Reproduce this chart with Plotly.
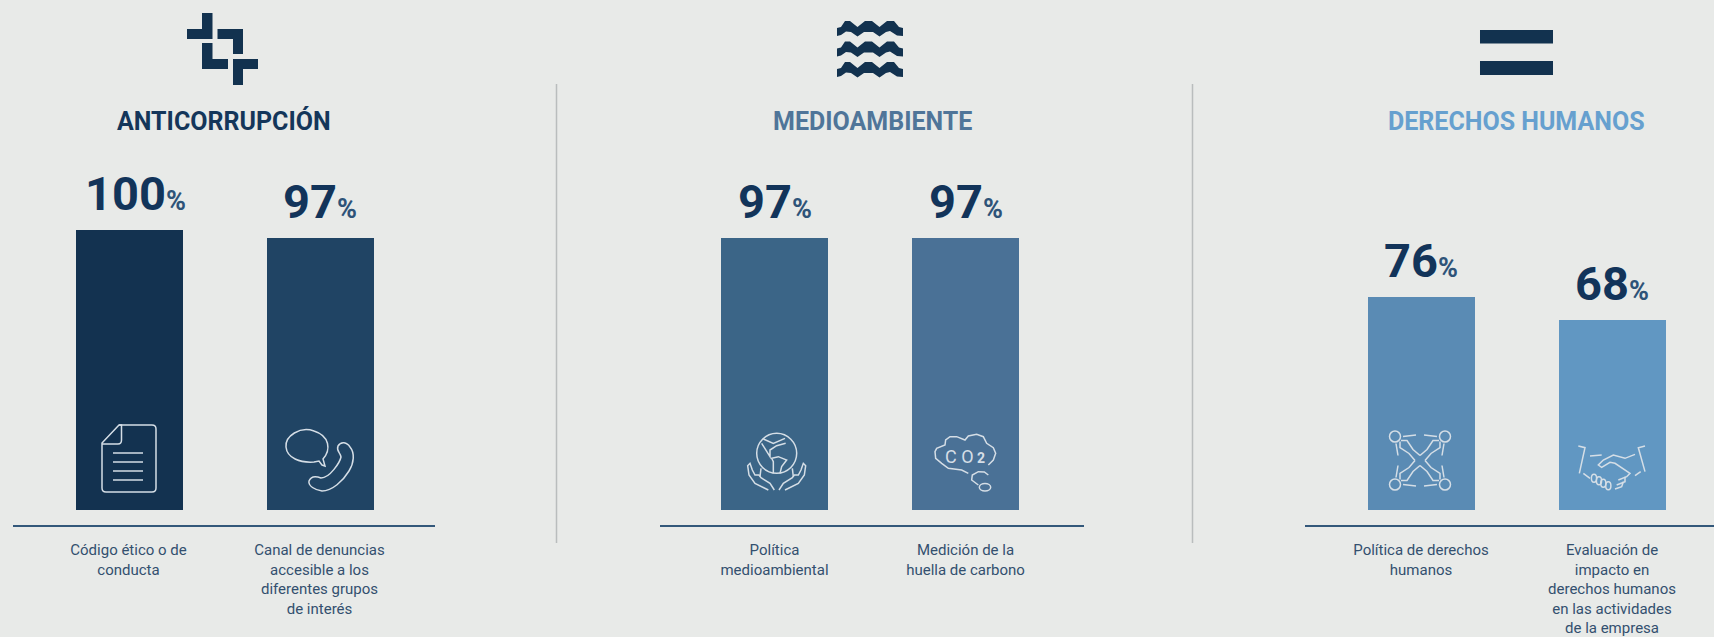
import re
import plotly.graph_objects as go

W, H = 1714, 637
BG = "#e8eae8"
FONT = "Roboto, 'Noto Sans', sans-serif"
NAVY = "#12324f"

# ---- data ----
panel_titles = ["ANTICORRUPCIÓN", "MEDIOAMBIENTE", "DERECHOS HUMANOS"]
title_colors = ["#14365a", "#4f7599", "#66a0cf"]
categories_a = ["Código ético o de<br>conducta",
                "Canal de denuncias<br>accesible a los<br>diferentes grupos<br>de interés"]
values_a = [100, 97]
categories_b = ["Política<br>medioambiental", "Medición de la<br>huella de carbono"]
values_b = [97, 97]
categories_c = ["Política de derechos<br>humanos",
                "Evaluación de<br>impacto en<br>derechos humanos<br>en las actividades<br>de la empresa"]
values_c = [76, 68]
colors_a = ["#133250", "#204464"]
colors_b = ["#3b6587", "#4a7196"]
colors_c = ["#5a8bb4", "#6197c2"]

# ---- layout constants (pixels) ----
BASE_PX, ZERO_PX, TOP100_PX = 525, 510, 230
PX_PER_UNIT = (ZERO_PX - TOP100_PX) / 100
STEP = 191
BAR_W = 107
panels = [
    dict(first=128.5, left=12.5, right=435),
    dict(first=774.5, left=660, right=1084),
    dict(first=1421, left=1305, right=1714),
]
for p in panels:
    p["range"] = [(p["left"] - p["first"]) / STEP, (p["right"] - p["first"]) / STEP]
    p["domain"] = [p["left"] / W, p["right"] / W]

y_range = [(ZERO_PX - BASE_PX) / PX_PER_UNIT, ZERO_PX / PX_PER_UNIT]
y_domain = [(H - BASE_PX) / H, 1]


def to_paper(path):
    def conv(m):
        return f"{float(m.group(1)) / W:.6f},{1 - float(m.group(2)) / H:.6f}"
    return re.sub(r"(-?\d+\.?\d*),(-?\d+\.?\d*)", conv, path)


def fill_shape(path, color=NAVY):
    return dict(type="path", xref="paper", yref="paper", path=to_paper(path),
                fillcolor=color, line=dict(width=0))


def line_shape(path, width=1.5, color="#d5dee6"):
    return dict(type="path", xref="paper", yref="paper", path=to_paper(path),
                line=dict(width=width, color=color))


def rect(x0, y0, x1, y1):
    return f"M{x0},{y0} L{x1},{y0} L{x1},{y1} L{x0},{y1} Z"


def circle(cx, cy, rx, ry=None):
    ry = ry or rx
    return (f"M{cx - rx},{cy} C{cx - rx},{cy - ry * .55} {cx - rx * .55},{cy - ry} {cx},{cy - ry} "
            f"C{cx + rx * .55},{cy - ry} {cx + rx},{cy - ry * .55} {cx + rx},{cy} "
            f"C{cx + rx},{cy + ry * .55} {cx + rx * .55},{cy + ry} {cx},{cy + ry} "
            f"C{cx - rx * .55},{cy + ry} {cx - rx},{cy + ry * .55} {cx - rx},{cy} Z")


def zoom_path(points, ox, oy, mirror=None):
    """Build a polyline from points noted on a 3x crop."""
    out = []
    for i, (u, v) in enumerate(points):
        if mirror is not None:
            u = mirror - u
        out.append(("M" if i == 0 else "L") + f"{ox + u / 3:.2f},{oy + v / 3:.2f}")
    return " ".join(out)


shapes = []
# separators
for x in (556.5, 1192.5):
    shapes.append(dict(type="line", xref="paper", yref="paper", x0=x / W, x1=x / W,
                       y0=1 - 543 / H, y1=1 - 84 / H, line=dict(color="#b9bdbd", width=1.5)))

# header icon 1
for d in [
    "M202,13 L212.5,13 L212.5,39 L187,39 L187,29 L202,29 Z",
    "M217.5,29 L243,29 L243,54 L233,54 L233,39 L217.5,39 Z",
    "M202,43 L212.5,43 L212.5,59 L228,59 L228,69 L202,69 Z",
    "M233,59 L258,59 L258,69 L243,69 L243,85 L233,85 Z",
]:
    shapes.append(fill_shape(d))

# header icon 2: waves
for y in (21, 41.5, 62):
    d = (f"M837,{y+7} L841,{y+6} L845,{y} L850,{y} L857.5,{y+6} L865,{y} L872,{y} "
         f"L879.5,{y+6} L887,{y} L894,{y} L899,{y+6} L903,{y+7} "
         f"L903,{y+15} L897,{y+14.5} L890,{y+10} L886,{y+11} L879.5,{y+15.5} L873,{y+11} L864,{y+11} "
         f"L857.5,{y+15.5} L851,{y+11} L846,{y+10.5} L841,{y+14} L837,{y+15} Z")
    shapes.append(fill_shape(d))

# header icon 3
shapes.append(fill_shape(rect(1480, 30, 1553, 43.5)))
shapes.append(fill_shape(rect(1480, 61, 1553, 75)))

# bar icon: document
shapes.append(line_shape("M119,425 L152,425 Q156,425 156,429 L156,488 Q156,492 152,492 L106,492 "
                         "Q102,492 102,488 L102,443 Z"))
shapes.append(line_shape("M119,425 L121.5,425 L121.5,440 Q121.5,444 118,444 L102,444"))
for y in (453, 462, 471, 480):
    shapes.append(line_shape(f"M113,{y} L143,{y}"))

# bar icon: phone + bubble
shapes.append(line_shape("M323,459 C331,450 330,436 314,431 C300,426 285,436 286,447 "
                         "C287,458 300,463 314,462 L319,461 L322,465 L325,466 L323,459 Z"))
shapes.append(line_shape("M338,446 C341,441 347,442 350,447 C355,453 354,463 349,471 "
                         "C343,481 332,491 322,491 C315,490 308,486 309,481 C311,476 316,476 321,478 "
                         "C330,478 340,462 341,457 C340,452 336,451 338,446 Z"))

# bar icon: globe in hands
shapes.append(line_shape(circle(776.7, 453.3, 20)))
for pts in ([(80, 55), (105, 95), (105, 75), (125, 62), (152, 55)],
            [(85, 42), (115, 55), (150, 40)],
            [(115, 145), (115, 110), (110, 100), (130, 95), (155, 105), (140, 125), (135, 145)]):
    shapes.append(line_shape(zoom_path(pts, 735, 425)))
hand = [(118, 195), (105, 175), (78, 158), (72, 150), (60, 150), (52, 135), (45, 115), (38, 122),
        (42, 150), (60, 175), (100, 195)]
hand2 = [(75, 155), (78, 130)]
shapes.append(line_shape(zoom_path(hand, 735, 425)))
shapes.append(line_shape(zoom_path(hand, 735, 425, mirror=250)))
shapes.append(line_shape(zoom_path(hand2, 735, 425)))
shapes.append(line_shape(zoom_path(hand2, 735, 425, mirror=250)))

# bar icon: CO2 cloud
cloud = [(130, 145), (110, 135), (70, 130), (50, 115), (32, 100), (30, 80), (35, 70), (60, 60), (62, 45), (75, 35),
         (95, 35), (120, 45), (130, 33), (155, 28), (175, 35), (185, 55), (205, 68), (212, 85), (205, 105), (190, 120)]
shapes.append(line_shape(zoom_path(cloud, 925, 425)))
shapes.append(line_shape(zoom_path([(190, 150), (178, 141), (160, 140), (142, 150), (140, 165), (160, 180)], 925, 425)))
shapes.append(line_shape(circle(985, 487.3, 5.7, 3.7)))

# bar icon: network of people
CX, CY = 1420, 460.5
for sx, sy in [(1, 1), (-1, 1), (1, -1), (-1, -1)]:
    def rel(pts):
        return " ".join(("M" if i == 0 else "L") + f"{CX + sx * a},{CY + sy * b}" for i, (a, b) in enumerate(pts))
    shapes.append(line_shape(circle(CX + sx * -25, CY + sy * -24, 5.5)))
    shapes.append(line_shape(rel([(-17, -24), (-4, -25.5)])))
    shapes.append(line_shape(rel([(-24, -17), (-22, -5)])))
    shapes.append(line_shape(rel([(-19, -20), (-13, -20), (-7, -11), (0, -5)])))
    shapes.append(line_shape(rel([(-20, -19), (-20, -13), (-11, -7), (-5, 0)])))

# bar icon: handshake
O = (1570, 435)
for pts in ([(25, 33), (45, 38), (28, 115)],
            [(225, 33), (205, 38), (225, 110)],
            [(60, 63), (95, 60)],
            [(195, 58), (165, 70), (130, 60), (100, 75), (85, 90), (95, 97), (120, 82), (135, 85), (180, 115),
             (170, 125), (145, 135)],
            [(165, 125), (165, 140), (140, 150)],
            [(160, 140), (155, 155), (135, 162)],
            [(40, 115), (60, 130)],
            [(195, 122), (212, 110)]):
    shapes.append(line_shape(zoom_path(pts, *O)))
for cx, cy in [(1594, 478.3), (1599, 480.7), (1603.3, 483.3), (1608.3, 485.7)]:
    shapes.append(line_shape(circle(cx, cy, 2.6, 4)))

# ---- figure ----
fig = go.Figure()
series = [(categories_a, values_a, colors_a), (categories_b, values_b, colors_b), (categories_c, values_c, colors_c)]
annotations = []
label_dx = {100: 7}
for i, (cats, vals, cols) in enumerate(series):
    suffix = "" if i == 0 else str(i + 1)
    fig.add_trace(go.Bar(x=cats, y=vals, marker=dict(color=cols, line=dict(width=0)),
                         width=BAR_W / STEP, xaxis="x" + suffix, yaxis="y",
                         showlegend=False, hoverinfo="skip"))
    fig.update_layout(**{"xaxis" + suffix: dict(
        domain=panels[i]["domain"], range=panels[i]["range"], anchor="y", type="category",
        categoryorder="array", categoryarray=cats, showline=True, linecolor="#33587a", linewidth=2,
        showgrid=False, zeroline=False, ticks="outside", ticklen=10, tickcolor="rgba(0,0,0,0)",
        tickangle=0, tickfont=dict(family=FONT, size=15, color="#33506f"), automargin=False)})
    for c, v in zip(cats, vals):
        annotations.append(dict(
            x=c, y=v, xref="x" + suffix, yref="y", yanchor="bottom", xanchor="center",
            xshift=label_dx.get(v, 0), yshift=7, showarrow=False,
            text=f"<b>{v}</b><span style='font-size:27px;color:#2e5378'><b>%</b></span>",
            font=dict(family=FONT, size=47, color="#12345a")))

for title, color, cx in zip(panel_titles, title_colors, (223.6, 872, 1516)):
    annotations.append(dict(x=cx / W, y=1 - 121 / H, xref="paper", yref="paper", showarrow=False,
                            xanchor="center", yanchor="middle", text=f"<b>{title}</b>",
                            font=dict(family=FONT, size=25, color=color)))

annotations.append(dict(x=965 / W, y=1 - 456 / H, xref="paper", yref="paper", showarrow=False,
                        xanchor="center", yanchor="middle",
                        text="C O<span style='font-size:14px'> <b>2</b></span>",
                        font=dict(family=FONT, size=18, color="#d5dee6")))

fig.update_layout(
    width=W, height=H, margin=dict(l=0, r=0, t=0, b=0), autosize=False,
    paper_bgcolor=BG, plot_bgcolor="rgba(0,0,0,0)", bargap=0,
    yaxis=dict(domain=y_domain, range=y_range, visible=False, anchor="x", fixedrange=True),
    shapes=shapes, annotations=annotations,
)
fig.write_html("out.html", config={"displayModeBar": False},
               post_script=f"document.body.style.margin='0';document.body.style.background='{BG}';"
                           "document.documentElement.style.overflow='hidden';")
